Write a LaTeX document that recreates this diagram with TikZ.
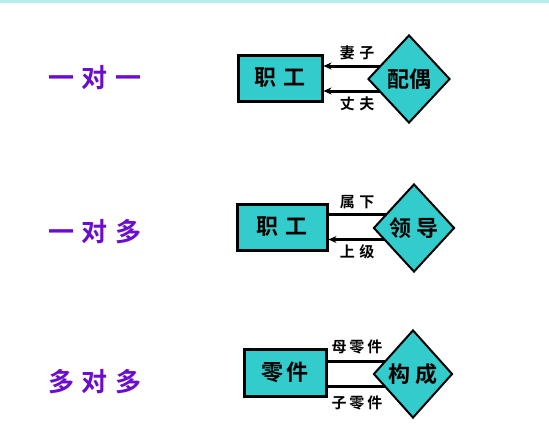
\documentclass[tikz,border=0pt]{standalone}
\usepackage{fontspec}
\newfontfamily\cjk{Noto Sans CJK SC}
\newfontfamily\cjkb{Noto Sans CJK SC Bold}
\usetikzlibrary{shapes.geometric,arrows.meta,backgrounds}
\definecolor{ent}{HTML}{33CCCC}
\definecolor{purp}{HTML}{6A0DCC}
\tikzset{
  entbox/.style={draw=black,line width=3pt,fill=ent,inner sep=0pt,font=\cjkb\fontsize{22}{22}\selectfont},
  reldia/.style={diamond,draw=black,line width=2pt,fill=ent,inner sep=0pt,minimum width=82pt,minimum height=88pt,font=\cjkb\fontsize{22}{22}\selectfont},
  link/.style={line width=3pt},
  arr/.style={line width=3pt,-{Stealth[length=8pt,width=7pt]}},
  lbl/.style={font=\cjkb\fontsize{15}{15}\selectfont,inner sep=0pt},
  kind/.style={font=\cjkb\fontsize{26}{26}\selectfont,text=purp,inner sep=0pt}
}
\begin{document}
\begin{tikzpicture}[x=1pt,y=-1pt]
\useasboundingbox (0,0) rectangle (549,445);
\fill[ent!35] (0,0) rectangle (549,3);
% left labels
\node[kind] (k1) at (95,78) {一\hspace{0.3em}对\hspace{0.3em}一};
\node[kind] (k2) at (95,232) {一\hspace{0.3em}对\hspace{0.3em}多};
\node[kind] (k3) at (95,382) {多\hspace{0.3em}对\hspace{0.3em}多};
% row 1
\node[entbox,minimum width=84pt,minimum height=46pt] (b1) at (280,78) {职\hspace{0.3em}工};
\node[reldia] (d1) at (409,79) {配偶};
\begin{scope}[on background layer]
\draw[arr] ([yshift=12pt]b1.east -| d1.center) -- ([yshift=12pt]b1.east);
\draw[arr] ([yshift=-13pt]b1.east -| d1.center) -- ([yshift=-13pt]b1.east);
\end{scope}
\node[lbl] (l1a) at (357,53) {妻\hspace{0.3em}子};
\node[lbl] (l1b) at (357,104) {丈\hspace{0.3em}夫};
% row 2
\node[entbox,minimum width=90pt,minimum height=46pt] (b2) at (282,227) {职\hspace{0.3em}工};
\node[reldia,minimum width=81pt] (d2) at (414,228) {领\hspace{0.25em}导};
\begin{scope}[on background layer]
\draw[link] ([yshift=12.5pt]b2.east) -- ([yshift=12.5pt]b2.east -| d2.center);
\draw[arr] ([yshift=-12.5pt]b2.east -| d2.center) -- ([yshift=-12.5pt]b2.east);
\end{scope}
\node[lbl] (l2a) at (357,202) {属\hspace{0.3em}下};
\node[lbl] (l2b) at (357,252) {上\hspace{0.3em}级};
% row 3
\node[entbox,minimum width=82pt,minimum height=47pt] (b3) at (285,372.5) {零\hspace{0.1em}件};
\node[reldia,minimum width=79pt] (d3) at (413,374) {构\hspace{0.2em}成};
\begin{scope}[on background layer]
\draw[link] ([yshift=11.5pt]b3.east) -- ([yshift=11.5pt]b3.east -| d3.center);
\draw[link] ([yshift=-13.5pt]b3.east) -- ([yshift=-13.5pt]b3.east -| d3.center);
\end{scope}
\node[lbl] (l3a) at (357,347) {母\hspace{0.2em}零\hspace{0.2em}件};
\node[lbl] (l3b) at (357,403) {子\hspace{0.2em}零\hspace{0.2em}件};
\end{tikzpicture}
\end{document}
